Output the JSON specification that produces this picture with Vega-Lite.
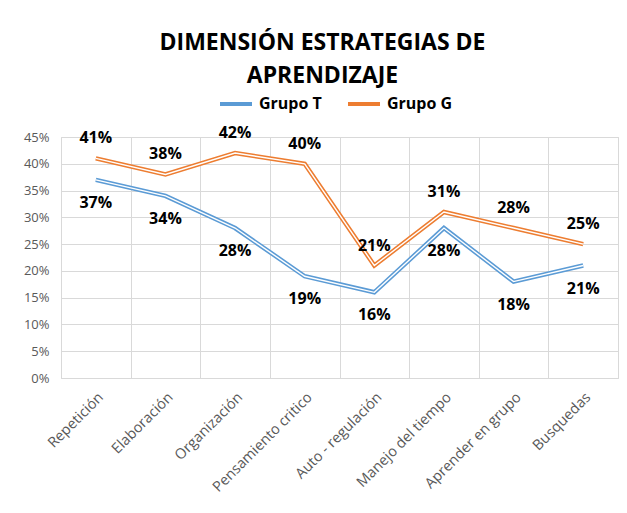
{
  "$schema": "https://vega.github.io/schema/vega-lite/v6.json",
  "autosize": "none",
  "width": 557,
  "height": 241,
  "padding": {"left": 61, "top": 137, "right": 9, "bottom": 135},
  "background": "white",
  "title": {
    "text": ["DIMENSIÓN ESTRATEGIAS DE", "APRENDIZAJE"],
    "font": "Open Sans",
    "fontSize": 23,
    "fontWeight": "bold",
    "color": "#000000",
    "anchor": "middle",
    "dx": -17,
    "dy": 6,
    "offset": 4,
    "lineHeight": 33
  },
  "data": {
    "values": [
      {"cat": "Repetición", "grupo": "Grupo T", "v": 0.37},
      {"cat": "Elaboración", "grupo": "Grupo T", "v": 0.34},
      {"cat": "Organización", "grupo": "Grupo T", "v": 0.28},
      {"cat": "Pensamiento critico", "grupo": "Grupo T", "v": 0.19},
      {"cat": "Auto - regulación", "grupo": "Grupo T", "v": 0.16},
      {"cat": "Manejo del tiempo", "grupo": "Grupo T", "v": 0.28},
      {"cat": "Aprender en grupo", "grupo": "Grupo T", "v": 0.18},
      {"cat": "Busquedas", "grupo": "Grupo T", "v": 0.21},
      {"cat": "Repetición", "grupo": "Grupo G", "v": 0.41},
      {"cat": "Elaboración", "grupo": "Grupo G", "v": 0.38},
      {"cat": "Organización", "grupo": "Grupo G", "v": 0.42},
      {"cat": "Pensamiento critico", "grupo": "Grupo G", "v": 0.40},
      {"cat": "Auto - regulación", "grupo": "Grupo G", "v": 0.21},
      {"cat": "Manejo del tiempo", "grupo": "Grupo G", "v": 0.31},
      {"cat": "Aprender en grupo", "grupo": "Grupo G", "v": 0.28},
      {"cat": "Busquedas", "grupo": "Grupo G", "v": 0.25}
    ]
  },
  "encoding": {
    "x": {
      "field": "cat",
      "type": "nominal",
      "sort": null,
      "scale": {"paddingInner": 0, "paddingOuter": 0},
      "axis": {
        "title": null,
        "labelAngle": -45,
        "labelFont": "Open Sans",
        "labelFontSize": 14.5,
        "labelColor": "#595959",
        "labelPadding": 12,
        "ticks": false,
        "domain": false,
        "grid": true,
        "gridColor": "#D9D9D9",
        "tickBand": "extent"
      }
    },
    "y": {
      "field": "v",
      "type": "quantitative",
      "scale": {"domain": [0, 0.45], "nice": false},
      "axis": {
        "title": null,
        "format": ".0%",
        "values": [0, 0.05, 0.1, 0.15, 0.2, 0.25, 0.3, 0.35, 0.4, 0.45],
        "labelFont": "Open Sans",
        "labelFontSize": 13,
        "labelColor": "#595959",
        "labelPadding": 12,
        "ticks": false,
        "domain": false,
        "gridColor": "#D9D9D9"
      }
    }
  },
  "layer": [
    {
      "mark": {"type": "line", "strokeWidth": 4.5},
      "encoding": {
        "color": {
          "field": "grupo",
          "type": "nominal",
          "scale": {"domain": ["Grupo T", "Grupo G"], "range": ["#5B9BD5", "#ED7D31"]},
          "legend": {
            "title": null,
            "orient": "none",
            "direction": "horizontal",
            "legendX": 157,
            "legendY": -51,
            "symbolType": "stroke",
            "symbolStrokeWidth": 4,
            "symbolSize": 1024,
            "labelFont": "Open Sans",
            "labelFontSize": 16,
            "labelFontWeight": "bold",
            "labelColor": "#000000",
            "labelOffset": 5,
            "columnPadding": 18,
            "padding": 0
          }
        }
      }
    },
    {
      "mark": {"type": "line", "strokeWidth": 1.4, "color": "white"},
      "encoding": {"detail": {"field": "grupo"}}
    },
    {
      "transform": [{"filter": "datum.grupo == 'Grupo G'"}],
      "mark": {"type": "text", "font": "Open Sans", "fontSize": 16, "fontWeight": "bold", "color": "#000000", "dy": -20, "baseline": "middle"},
      "encoding": {"text": {"field": "v", "type": "quantitative", "format": ".0%"}}
    },
    {
      "transform": [{"filter": "datum.grupo == 'Grupo T'"}],
      "mark": {"type": "text", "font": "Open Sans", "fontSize": 16, "fontWeight": "bold", "color": "#000000", "dy": 23, "baseline": "middle"},
      "encoding": {"text": {"field": "v", "type": "quantitative", "format": ".0%"}}
    }
  ],
  "config": {
    "view": {"stroke": "#D9D9D9"}
  }
}
